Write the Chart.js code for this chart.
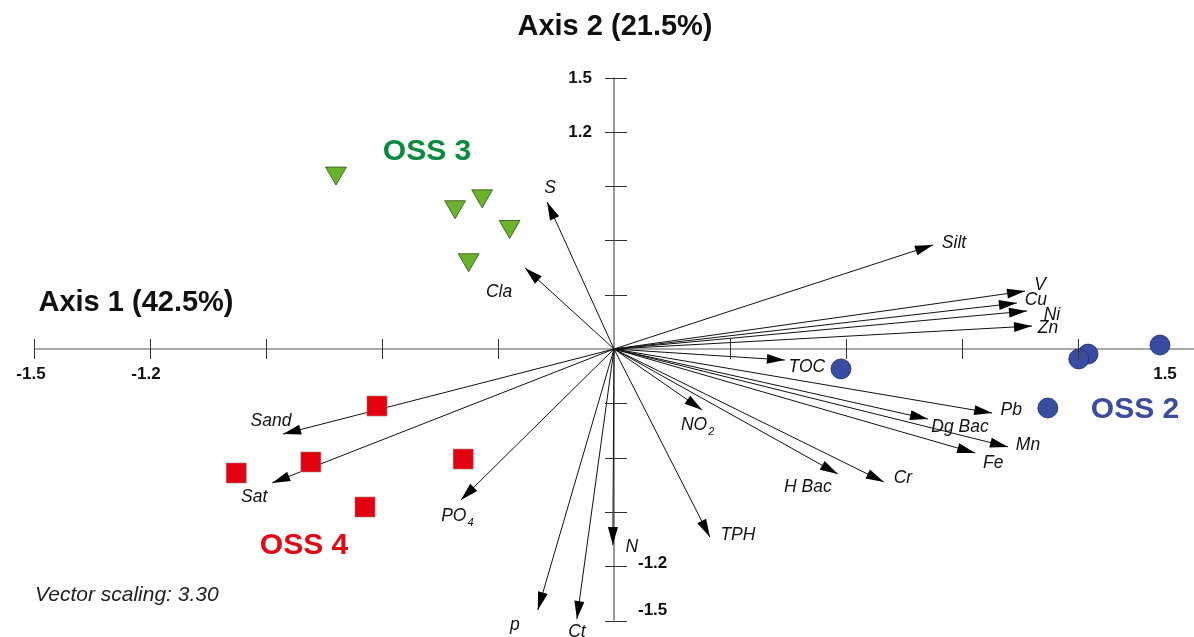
<!DOCTYPE html>
<html><head><meta charset="utf-8">
<script src="https://cdn.jsdelivr.net/npm/chart.js@4.4.0/dist/chart.umd.min.js"></script>
<style>html,body{margin:0;padding:0;background:#fff;overflow:hidden}#wrap{width:1194px;height:637px;position:relative}</style>
</head><body><div id="wrap"><canvas id="c" width="1194" height="637"></canvas></div>
<script>
// ---------- DATA ----------
const vectorNames = ['S','Cla','Silt','V','Cu','Ni','Zn','TOC','Pb','Dg Bac','Mn','Fe','Cr','H Bac','NO_2','TPH','N','Ct','p','PO_4','Sat','Sand'];
const vectorX = [-0.173,-0.230,0.825,1.063,1.042,1.068,1.081,0.442,0.978,0.812,1.019,0.934,0.698,0.579,0.228,0.248,-0.003,-0.096,-0.197,-0.396,-0.884,-0.856];
const vectorY = [0.812,0.448,0.575,0.320,0.254,0.210,0.127,-0.061,-0.354,-0.387,-0.541,-0.575,-0.735,-0.691,-0.337,-1.039,-1.083,-1.492,-1.442,-0.834,-0.740,-0.470];

const oss2X = [0.587,1.122,1.226,1.202,1.412];
const oss2Y = [-0.110,-0.326,-0.028,-0.055,0.022];
const oss3X = [-0.719,-0.411,-0.341,-0.270,-0.376];
const oss3Y = [0.972,0.786,0.846,0.677,0.493];
const oss4X = [-0.613,-0.784,-0.977,-0.390,-0.644];
const oss4Y = [-0.315,-0.624,-0.685,-0.608,-0.873];

const groupNames = ['OSS 2','OSS 3','OSS 4'];
const xTickValues = [-1.5,-1.2,-0.9,-0.6,-0.3,0.3,0.6,0.9,1.2,1.5];
const yTickValues = [1.5,1.2,0.9,0.6,0.3,-0.3,-0.6,-0.9,-1.2,-1.5];
const xTickLabels = ['-1.5','-1.2','1.5'];
const xTickLabelValues = [-1.5,-1.2,1.5];
const yTickLabels = ['1.5','1.2','-1.2','-1.5'];
const yTickLabelValues = [1.5,1.2,-1.2,-1.5];
const axis1Title = 'Axis 1 (42.5%)';
const axis2Title = 'Axis 2 (21.5%)';
const noteText = 'Vector scaling: 3.30';

// ---------- LAYOUT / STYLE (pixel offsets only) ----------
const vectorLabelOffsets = [[3,-14],[-26,24],[21,-2],[15,-6],[19,-3],[25,4],[16,2],[22,7],[19,-3],[32,8],[20,-2],[18,10],[19,-4],[-30,13],[-5,15],[28,-2],[19,2],[0,13],[-23,15],[-4,16],[-18,14],[-12,-13]];
const xTickLabelOffsets = [[-3,25],[-4,25],[-29,25]];
const yTickLabelOffsets = [[-22,1],[-22,1],[24,-3],[24,-10]];
const groupLabelPos = [[1135,410],[427,152],[304,546]];
const groupColors = ['#3b4ca0','#0b8a3e','#e30613'];

function pts(xs, ys){ return xs.map((x,i)=>({x:x, y:ys[i]})); }

const datasets = [];
vectorNames.forEach((n,i)=>{
  datasets.push({type:'line', label:n, data:[{x:0,y:0},{x:vectorX[i],y:vectorY[i]}],
    borderColor:'#111', borderWidth:1, pointRadius:0, showLine:true, fill:false, order:10, tension:0});
});
datasets.push({label:groupNames[1], data:pts(oss3X,oss3Y), pointStyle:'triangle', rotation:180,
  pointRadius:12, backgroundColor:'#6ab42d', borderColor:'#2e4a14', borderWidth:0.8, order:1});
datasets.push({label:groupNames[2], data:pts(oss4X,oss4Y), pointStyle:'rect',
  pointRadius:14.2, backgroundColor:'#e3000f', borderColor:'#9a8a8a', borderWidth:0.6, order:1});
datasets.push({label:groupNames[0], data:pts(oss2X,oss2Y), pointStyle:'circle',
  pointRadius:10, backgroundColor:'#3a4ca2', borderColor:'#1d2a66', borderWidth:0.8, order:1});

const FONT = '"Liberation Sans", Arial, sans-serif';

function drawLabel(ctx, text, cx, cy){
  const parts = text.split('_');
  ctx.font = 'italic 17.5px ' + FONT;
  const w0 = ctx.measureText(parts[0]).width;
  let w1 = 0;
  if (parts[1]) { ctx.font = 'italic 11px ' + FONT; w1 = ctx.measureText(parts[1]).width; }
  const left = cx - (w0 + w1)/2;
  ctx.textAlign = 'left'; ctx.textBaseline = 'middle';
  ctx.font = 'italic 17.5px ' + FONT;
  ctx.fillText(parts[0], left, cy);
  if (parts[1]) { ctx.font = 'italic 11px ' + FONT; ctx.fillText(parts[1], left + w0 + 1, cy + 7); }
}

const biplotPlugin = {
  id:'biplot',
  beforeDatasetsDraw(chart){
    const {ctx, scales:{x, y}} = chart;
    const x0 = x.getPixelForValue(0), y0 = y.getPixelForValue(0);
    ctx.save();
    ctx.strokeStyle = '#555'; ctx.lineWidth = 1.2;
    ctx.beginPath();
    ctx.moveTo(x.getPixelForValue(-1.5), y0); ctx.lineTo(x.getPixelForValue(1.5), y0);
    ctx.moveTo(x0, y.getPixelForValue(1.5)); ctx.lineTo(x0, y.getPixelForValue(-1.5));
    ctx.stroke();
    ctx.restore();
  },
  afterDatasetsDraw(chart){
    const {ctx, scales:{x, y}} = chart;
    const x0 = x.getPixelForValue(0), y0 = y.getPixelForValue(0);
    ctx.save();
    ctx.strokeStyle = '#333'; ctx.lineWidth = 1;
    ctx.beginPath();
    xTickValues.forEach(v=>{ const px = Math.round(x.getPixelForValue(v))+0.5; ctx.moveTo(px, y0-10); ctx.lineTo(px, y0+10); });
    yTickValues.forEach(v=>{ const py = Math.round(y.getPixelForValue(v))+0.5; ctx.moveTo(x0-9, py); ctx.lineTo(x0+13, py); });
    ctx.stroke();
    ctx.fillStyle = '#000';
    vectorNames.forEach((n,i)=>{
      const tx = x.getPixelForValue(vectorX[i]), ty = y.getPixelForValue(vectorY[i]);
      const ang = Math.atan2(ty - y0, tx - x0);
      const L = 18, W = 5;
      const bx = tx - L*Math.cos(ang), by = ty - L*Math.sin(ang);
      ctx.beginPath();
      ctx.moveTo(tx, ty);
      ctx.lineTo(bx + W*Math.sin(ang), by - W*Math.cos(ang));
      ctx.lineTo(bx - W*Math.sin(ang), by + W*Math.cos(ang));
      ctx.closePath(); ctx.fill();
    });
    ctx.fillStyle = '#111';
    vectorNames.forEach((n,i)=>{
      const tx = x.getPixelForValue(vectorX[i]), ty = y.getPixelForValue(vectorY[i]);
      drawLabel(ctx, n, tx + vectorLabelOffsets[i][0], ty + vectorLabelOffsets[i][1]);
    });
    ctx.fillStyle = '#111';
    ctx.font = 'bold 17px ' + FONT; ctx.textBaseline = 'middle';
    ctx.textAlign = 'center';
    xTickLabels.forEach((t,i)=>{
      ctx.fillText(t, x.getPixelForValue(xTickLabelValues[i]) + xTickLabelOffsets[i][0], y0 + xTickLabelOffsets[i][1]);
    });
    yTickLabels.forEach((t,i)=>{
      const off = yTickLabelOffsets[i];
      ctx.textAlign = off[0] < 0 ? 'right' : 'left';
      ctx.fillText(t, x0 + off[0], y.getPixelForValue(yTickLabelValues[i]) + off[1]);
    });
    ctx.font = 'bold 29px ' + FONT; ctx.textAlign = 'center'; ctx.fillStyle = '#111';
    ctx.fillText(axis2Title, 615, 27);
    ctx.fillText(axis1Title, 136, 303);
    ctx.font = 'bold 30px ' + FONT;
    groupNames.forEach((g,i)=>{ ctx.fillStyle = groupColors[i]; ctx.fillText(g, groupLabelPos[i][0], groupLabelPos[i][1]); });
    ctx.font = 'italic 21px ' + FONT; ctx.fillStyle = '#222'; ctx.textAlign = 'left';
    ctx.fillText(noteText, 35, 595);
    ctx.restore();
  }
};

new Chart(document.getElementById('c'), {
  type:'scatter',
  data:{datasets},
  options:{
    responsive:false, animation:false, devicePixelRatio:1,
    layout:{autoPadding:false, padding:{left:34, right:0, top:77.5, bottom:16.5}},
    plugins:{legend:{display:false}, tooltip:{enabled:false}},
    scales:{
      x:{type:'linear', min:-1.5, max:1.5, display:false},
      y:{type:'linear', min:-1.5, max:1.5, display:false}
    }
  },
  plugins:[biplotPlugin]
});
</script></body></html>
